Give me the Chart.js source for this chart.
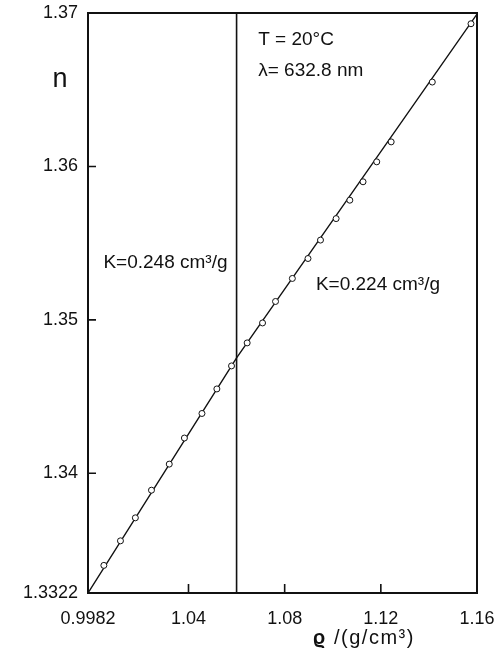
<!DOCTYPE html>
<html>
<head>
<meta charset="utf-8">
<script src="https://cdn.jsdelivr.net/npm/chart.js@4/dist/chart.umd.min.js"></script>
<style>
  html, body { margin: 0; padding: 0; background: #fff; }
  #wrap { width: 496px; height: 663px; position: relative; }
</style>
</head>
<body>
<div id="wrap"><canvas id="c"></canvas></div>
<script>
// Measured refractive index n versus density rho (T = 20 °C, lambda = 632.8 nm)
const rho = [1.0048, 1.0117, 1.0179, 1.0246, 1.0320, 1.0383, 1.0456, 1.0518, 1.0579, 1.0644, 1.0708,
             1.0762, 1.0832, 1.0897, 1.0949, 1.1014, 1.1071, 1.1126, 1.1183, 1.1243, 1.1414, 1.1575];
const nIndex = [1.3340, 1.3356, 1.3371, 1.3389, 1.3406, 1.3423, 1.3439, 1.3455, 1.3470, 1.3485, 1.3498,
                1.3512, 1.3527, 1.3540, 1.3552, 1.3566, 1.3578, 1.3590, 1.3603, 1.3616, 1.3655, 1.3693];

// Two-segment fit, slopes K = 0.248 and 0.224 cm^3/g, break at rho = 1.06
const fitRho = [0.9982, 1.06, 1.16];
const fitN = [1.3322, 1.34753, 1.36993];

// Break marker
const breakRho = [1.06, 1.06];
const breakN = [1.3322, 1.37];

// Axis ticks
const xTicks = [0.9982, 1.04, 1.08, 1.12, 1.16];
const xTickLabels = ['0.9982', '1.04', '1.08', '1.12', '1.16'];
const yTicks = [1.3322, 1.34, 1.35, 1.36, 1.37];
const yTickLabels = ['1.3322', '1.34', '1.35', '1.36', '1.37'];

// Text notes placed in data coordinates
const noteText = ['T = 20°C', 'λ= 632.8 nm', 'K=0.248 cm³/g', 'K=0.224 cm³/g'];
const noteRho = [1.0690, 1.0690, 1.0046, 1.0930];
const noteN = [1.36824, 1.36622, 1.35373, 1.35230];

const FONT = "'Liberation Sans', Arial, sans-serif";
const INK = '#111';

const toXY = (xs, ys) => xs.map((x, i) => ({ x: x, y: ys[i] }));

const framePlugin = {
  id: 'frame',
  afterDatasetsDraw(chart) {
    const { ctx, chartArea: a, scales } = chart;
    ctx.save();
    ctx.strokeStyle = INK;
    ctx.lineWidth = 2;
    ctx.strokeRect(a.left, a.top, a.right - a.left, a.bottom - a.top);
    // inward tick marks
    ctx.lineWidth = 1.6;
    ctx.beginPath();
    xTicks.slice(1, -1).forEach(v => {
      const px = scales.x.getPixelForValue(v);
      ctx.moveTo(px, a.bottom); ctx.lineTo(px, a.bottom - 9);
    });
    yTicks.slice(1, -1).forEach(v => {
      const py = scales.y.getPixelForValue(v);
      ctx.moveTo(a.left, py); ctx.lineTo(a.left + 8, py);
    });
    ctx.stroke();

    // notes
    ctx.fillStyle = INK;
    ctx.textBaseline = 'middle';
    ctx.textAlign = 'left';
    ctx.font = '19px ' + FONT;
    noteText.forEach((t, i) => {
      ctx.fillText(t, scales.x.getPixelForValue(noteRho[i]), scales.y.getPixelForValue(noteN[i]));
    });

    // y-axis title
    ctx.textAlign = 'center';
    ctx.font = '27px ' + FONT;
    ctx.fillText('n', a.left - 28, scales.y.getPixelForValue(1.3655) - 3);

    // x-axis title: bold rho symbol followed by the unit
    const sym = 'ϱ', unit = ' /(g/cm³)';
    ctx.letterSpacing = '1.5px';
    ctx.font = 'bold 20px ' + FONT;
    const wSym = ctx.measureText(sym).width;
    ctx.font = '20px ' + FONT;
    const wUnit = ctx.measureText(unit).width;
    const x0 = scales.x.getPixelForValue(1.113) - (wSym + wUnit) / 2;
    const ty = a.bottom + 45;
    ctx.textAlign = 'left';
    ctx.font = 'bold 20px ' + FONT;
    ctx.fillText(sym, x0, ty);
    ctx.font = '20px ' + FONT;
    ctx.fillText(unit, x0 + wSym, ty);
    ctx.restore();
  }
};

new Chart(document.getElementById('c'), {
  type: 'scatter',
  data: {
    datasets: [
      {
        data: toXY(rho, nIndex),
        showLine: false,
        pointStyle: 'circle',
        pointRadius: 3,
        pointBorderWidth: 1,
        pointBorderColor: INK,
        pointBackgroundColor: '#fff',
        order: 0
      },
      {
        data: toXY(fitRho, fitN),
        showLine: true,
        borderColor: INK,
        borderWidth: 1.4,
        pointRadius: 0,
        order: 1
      },
      {
        data: toXY(breakRho, breakN),
        showLine: true,
        borderColor: INK,
        borderWidth: 1.6,
        pointRadius: 0,
        order: 2
      }
    ]
  },
  options: {
    responsive: true,
    maintainAspectRatio: false,
    animation: false,
    devicePixelRatio: 1,
    layout: { padding: { top: 13, right: 19, bottom: 0, left: 0 } },
    plugins: { legend: { display: false }, tooltip: { enabled: false } },
    scales: {
      x: {
        type: 'linear',
        min: 0.9982,
        max: 1.16,
        afterBuildTicks: s => { s.ticks = xTicks.map(v => ({ value: v })); },
        afterFit: s => { s.height = 70; s.paddingLeft = 0; s.paddingRight = 0; },
        grid: { display: false, drawTicks: false },
        border: { display: false },
        ticks: {
          color: INK,
          font: { family: FONT, size: 18 },
          padding: 15,
          maxRotation: 0,
          autoSkip: false,
          callback: (v, i) => xTickLabels[i]
        }
      },
      y: {
        type: 'linear',
        min: 1.3322,
        max: 1.37,
        afterBuildTicks: s => { s.ticks = yTicks.map(v => ({ value: v })); },
        afterFit: s => { s.width = 88; s.paddingTop = 0; s.paddingBottom = 0; },
        grid: { display: false, drawTicks: false },
        border: { display: false },
        ticks: {
          color: INK,
          font: { family: FONT, size: 18 },
          padding: 10,
          autoSkip: false,
          callback: (v, i) => yTickLabels[i]
        }
      }
    }
  },
  plugins: [framePlugin]
});
</script>
</body>
</html>
